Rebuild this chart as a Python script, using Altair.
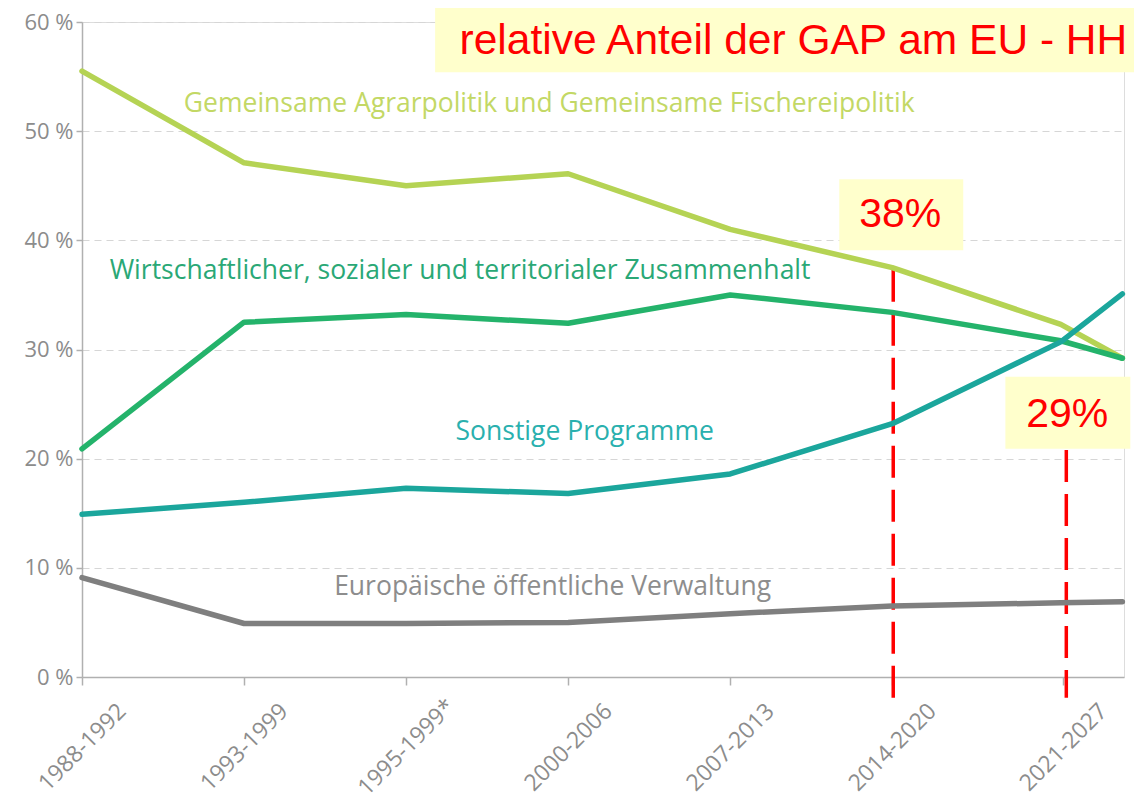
import altair as alt
import pandas as pd

# ---- data ----
periods = ["1988-1992", "1993-1999", "1995-1999*", "2000-2006", "2007-2013", "2014-2020", "2021-2027"]
tick_pos = [0, 1, 2, 3, 4, 5, 6.056]
point_pos = [0, 1, 2, 3, 4, 5, 6.04, 6.42]

series_names = [
    "Gemeinsame Agrarpolitik und Gemeinsame Fischereipolitik",
    "Wirtschaftlicher, sozialer und territorialer Zusammenhalt",
    "Sonstige Programme",
    "Europäische öffentliche Verwaltung",
]
cap = [55.5, 47.1, 45.0, 46.1, 41.0, 37.5, 32.3, 29.2]
cohesion = [20.9, 32.5, 33.2, 32.4, 35.0, 33.4, 30.8, 29.2]
other = [14.9, 16.0, 17.3, 16.8, 18.6, 23.2, 30.7, 35.1]
admin = [9.1, 4.9, 4.9, 5.0, 5.8, 6.5, 6.8, 6.9]
series_values = [cap, cohesion, other, admin]
line_colors = ["#b5d354", "#24b36b", "#1ba69c", "#7f7f7f"]
label_colors = ["#c3d865", "#2aa876", "#2ab0ae", "#8d8d8d"]

# series label anchors (data units)
label_x = [2.883, 2.333, 3.102, 2.904]
label_y = [52.5, 37.2, 22.4, 8.2]

# annotations (data units)
box_x = [2.179, 4.673, 5.698]
box_x2 = [6.70, 5.438, 6.469]
box_y = [63.0, 45.6, 27.5]
box_y2 = [55.4, 39.1, 20.9]
note_texts = ["relative Anteil der GAP am EU - HH", "38%", "29%"]
note_x = [2.33, 5.049, 6.08]
note_y = [58.3, 42.3, 24.0]
note_align = ["left", "center", "center"]
note_size = [42.5, 41, 41]
marker_x = [5.006, 6.074]
marker_top = [37.3, 20.8]
marker_bottom = [-1.9, -1.9]

# ---- tables ----
rows = []
for name, vals in zip(series_names, series_values):
    for p, v in zip(point_pos, vals):
        rows.append({"series": name, "pos": p, "value": v})
df = pd.DataFrame(rows)

lab_df = pd.DataFrame({"series": series_names, "x": label_x, "y": label_y})
box_df = pd.DataFrame({"x": box_x, "x2": box_x2, "y": box_y, "y2": box_y2})
marker_df = pd.DataFrame({"x": marker_x, "y": marker_top, "y2": marker_bottom})

label_expr = " : ".join(
    f"abs(datum.value - {p}) < 0.01 ? '{t}'" for p, t in zip(tick_pos, periods)
) + " : ''"

FONT = "Open Sans"
xscale = alt.Scale(domain=[0, 6.43], nice=False, zero=False)
yscale = alt.Scale(domain=[0, 60], nice=False)
color_scale = alt.Scale(domain=series_names, range=line_colors)
label_color_scale = alt.Scale(domain=series_names, range=label_colors)

lines = alt.Chart(df).mark_line(strokeWidth=5.5, strokeCap="round", strokeJoin="round").encode(
    x=alt.X("pos:Q", scale=xscale, title=None,
            axis=alt.Axis(values=tick_pos, labelExpr=label_expr, grid=False,
                          labelAngle=315, labelAlign="center", labelBaseline="middle",
                          labelPadding=62, tickSize=8, labelFontSize=23, labelFont=FONT,
                          labelColor="#8c8c8c", domainColor="#b0b0b0", tickColor="#b0b0b0",
                          domainWidth=1.5, tickWidth=1.5, labelOverlap=False, labelFlush=False)),
    y=alt.Y("value:Q", scale=yscale, title=None,
            axis=alt.Axis(values=[0, 10, 20, 30, 40, 50, 60], labelExpr="datum.value + ' %'",
                          grid=True, gridDash=[7, 5], gridColor="#d6d6d6", gridWidth=1.2,
                          tickSize=6, labelPadding=3, labelFontSize=22, labelFont=FONT,
                          labelColor="#8c8c8c", domainColor="#b0b0b0", tickColor="#b0b0b0",
                          domainWidth=1.5, tickWidth=1.5)),
    color=alt.Color("series:N", scale=color_scale, legend=None),
    detail="series:N",
)

labels = alt.Chart(lab_df).mark_text(font=FONT, fontSize=26.5, align="center", baseline="middle").encode(
    x=alt.X("x:Q", scale=xscale),
    y=alt.Y("y:Q", scale=yscale),
    text="series:N",
    color=alt.Color("series:N", scale=label_color_scale, legend=None),
)

boxes = alt.Chart(box_df).mark_rect(color="#ffffcc", opacity=1).encode(
    x=alt.X("x:Q", scale=xscale), x2="x2:Q",
    y=alt.Y("y:Q", scale=yscale), y2="y2:Q",
)

markers = alt.Chart(marker_df).mark_rule(color="#ff0000", strokeWidth=3.5, strokeDash=[32, 12]).encode(
    x=alt.X("x:Q", scale=xscale),
    y=alt.Y("y:Q", scale=yscale), y2="y2:Q",
)

notes = []
for t, nx, ny, al, fs in zip(note_texts, note_x, note_y, note_align, note_size):
    ndf = pd.DataFrame({"x": [nx], "y": [ny], "t": [t]})
    notes.append(
        alt.Chart(ndf).mark_text(font="Liberation Sans", fontSize=fs, color="#ff0000",
                                 align=al, baseline="middle").encode(
            x=alt.X("x:Q", scale=xscale), y=alt.Y("y:Q", scale=yscale), text="t:N")
    )

chart = alt.layer(markers, lines, boxes, labels, *notes).resolve_scale(color="independent").properties(
    width=1042, height=655,
    autosize=alt.AutoSizeParams(type="none"),
    padding={"left": 74, "top": 14, "right": 10, "bottom": 127},
).configure_view(stroke=None).configure(background="white")

chart.save("out.html", embed_options={"renderer": "svg", "actions": False})
